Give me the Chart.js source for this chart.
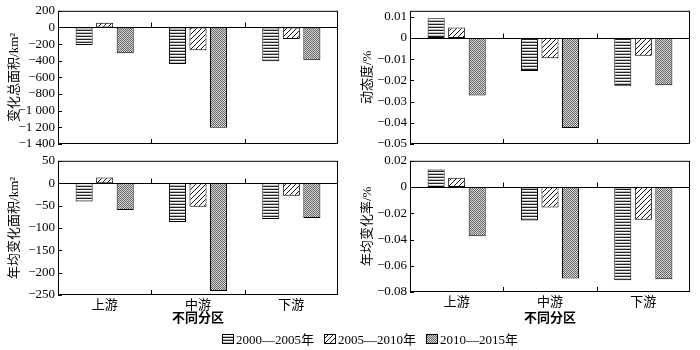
<!DOCTYPE html>
<html>
<head>
<meta charset="utf-8">
<script src="https://cdn.jsdelivr.net/npm/chart.js@4.4.1/dist/chart.umd.min.js"></script>
<style>
    body { margin: 0; background: #fff; width: 700px; height: 350px; position: relative; overflow: hidden; font-family: 'Liberation Serif', 'Noto Sans CJK SC', serif; }
    .panel { position: absolute; }
    #legend { position: absolute; left: 222px; top: 331px; height: 15px; display: flex; align-items: center; font-size: 13px; color: #000; white-space: nowrap; }
    #legend .item { display: flex; align-items: center; margin-right: 10px; }
    #legend canvas { display: block; width: 12px; height: 10px; margin-right: 2px; }
</style>
</head>
<body>
<div class="panel" style="left:0;top:0;width:350px;height:156px"><canvas id="c1"></canvas></div>
<div class="panel" style="left:350px;top:0;width:350px;height:156px"><canvas id="c2"></canvas></div>
<div class="panel" style="left:0;top:150px;width:350px;height:180px"><canvas id="c3"></canvas></div>
<div class="panel" style="left:350px;top:150px;width:350px;height:180px"><canvas id="c4"></canvas></div>
<div id="legend"></div>
<script>
// 分区 与 时段
const regions = ["上游", "中游", "下游"];
const periods = ["2000—2005年", "2005—2010年", "2010—2015年"];

// 变化总面积/km2 (每个时段一组, 顺序: 上游 中游 下游)
const totalArea0005 = [-212, -440, -405];
const totalArea0510 = [57, -275, -138];
const totalArea1015 = [-310, -1205, -393];

// 动态度/%
const dynamic0005 = [0.0093, -0.0156, -0.0228];
const dynamic0510 = [0.0049, -0.0096, -0.0084];
const dynamic1015 = [-0.0271, -0.0425, -0.0223];

// 年均变化面积/km2
const annualArea0005 = [-41, -87, -80];
const annualArea0510 = [12.5, -52.5, -28];
const annualArea1015 = [-60, -241, -78];

// 年均变化率/%
const annualRate0005 = [0.0133, -0.0255, -0.071];
const annualRate0510 = [0.007, -0.0155, -0.025];
const annualRate1015 = [-0.0375, -0.0697, -0.0702];

const FONT = "'Liberation Serif', 'Noto Sans CJK SC', serif";

function makePattern(kind) {
    const c = document.createElement("canvas");
    const g = c.getContext("2d");
    if (kind === 0) {
        c.width = 4; c.height = 3;
        g.fillStyle = "#fff"; g.fillRect(0, 0, 4, 3);
        g.fillStyle = "#222"; g.fillRect(0, 0, 4, 1);
        g.fillStyle = "#bbb"; g.fillRect(0, 2, 4, 1);
    } else if (kind === 1) {
        c.width = 5; c.height = 5;
        g.fillStyle = "#fff"; g.fillRect(0, 0, 5, 5);
        g.fillStyle = "#111";
        for (let i = 0; i < 5; i++) g.fillRect(i, 4 - i, 1, 1);
    } else {
        c.width = 2; c.height = 2;
        g.fillStyle = "#d6d6d6"; g.fillRect(0, 0, 2, 2);
        g.fillStyle = "#666"; g.fillRect(0, 0, 1, 1); g.fillRect(1, 1, 1, 1);
    }
    return c;
}
const patternCanvases = [makePattern(0), makePattern(1), makePattern(2)];

function fmtInt(v) {
    if (v === 0) return "0";
    const s = Math.abs(v).toString().replace(/\B(?=(\d{3})+(?!\d))/g, " ");
    return (v < 0 ? "−" : "") + s;
}
function fmtDec(v) {
    if (Math.abs(v) < 1e-9) return "0";
    return (v < 0 ? "−" : "") + Math.abs(v).toFixed(2);
}

// 边框、零线、内向刻度
const framePlugin = {
    id: "frame",
    afterDatasetsDraw(chart) {
        const ctx = chart.ctx, a = chart.chartArea, x = chart.scales.x, y = chart.scales.y;
        ctx.save();
        ctx.strokeStyle = "#000"; ctx.lineWidth = 1;
        ctx.strokeRect(a.left + 0.5, a.top + 0.5, a.right - a.left - 1, a.bottom - a.top - 1);
        ctx.beginPath();
        const y0 = Math.round(y.getPixelForValue(0)) + 0.5;
        ctx.moveTo(a.left, y0); ctx.lineTo(a.right, y0);
        for (let i = 0; i < regions.length - 1; i++) {
            const px = Math.round(x.getPixelForValue(i + 0.5)) + 0.5;
            ctx.moveTo(px, a.bottom); ctx.lineTo(px, a.bottom - 5);
            ctx.moveTo(px, y0); ctx.lineTo(px, y0 - 5);
        }
        y.ticks.forEach(function(t) {
            const py = Math.round(y.getPixelForValue(t.value)) + 0.5;
            ctx.moveTo(a.left, py); ctx.lineTo(a.left + 4, py);
        });
        ctx.stroke();
        ctx.restore();
    }
};

function makeChart(id, series, yTitle, min, max, step, fmt, opt) {
    const ctx = document.getElementById(id).getContext("2d");
    const pats = patternCanvases.map(function(c) { return ctx.createPattern(c, "repeat"); });
    return new Chart(ctx, {
        type: "bar",
        data: {
            labels: regions,
            datasets: series.map(function(d, i) {
                return { label: periods[i], data: d, backgroundColor: pats[i], borderColor: "#000", borderWidth: 1, borderSkipped: false,
                         categoryPercentage: 0.66, barPercentage: 0.83 };
            })
        },
        options: {
            animation: false, responsive: true, maintainAspectRatio: false,
            layout: { padding: { top: opt.top, right: opt.right, bottom: opt.bottom, left: 0 } },
            plugins: { legend: { display: false }, tooltip: { enabled: false } },
            scales: {
                x: {
                    display: opt.showX, offset: true,
                    grid: { display: false, drawTicks: false }, border: { display: false },
                    ticks: { color: "#000", font: { family: FONT, size: 13 }, padding: 3, maxRotation: 0 },
                    title: { display: opt.showX, text: "不同分区", color: "#000", font: { family: FONT, size: 13, weight: "bold" }, padding: { top: 0, bottom: 4 } },
                    afterFit: function(s) { s.height = opt.showX ? opt.xh : 0; }
                },
                y: {
                    min: min, max: max,
                    grid: { display: false, drawTicks: false }, border: { display: false },
                    ticks: { stepSize: step, autoSkip: false, includeBounds: false, color: "#000", font: { family: FONT, size: 13 }, padding: 3, callback: fmt },
                    afterBuildTicks: function(s) {
                        s.ticks = s.ticks.filter(function(t) { return Math.abs(t.value / step - Math.round(t.value / step)) < 1e-6; });
                    },
                    title: { display: true, text: yTitle, color: "#000", font: { family: FONT, size: 13 }, padding: { top: opt.tp, bottom: 0 } },
                    afterFit: function(s) { s.width = opt.yw; }
                }
            }
        },
        plugins: [framePlugin]
    });
}

makeChart("c1", [totalArea0005, totalArea0510, totalArea1015], "变化总面积/km²", -1400, 200, 200, fmtInt,
    { top: 8, right: 12, bottom: 12, showX: false, xh: 0, yw: 58, tp: 7 });
makeChart("c2", [dynamic0005, dynamic0510, dynamic1015], "动态度/%", -0.05, 0.0128, 0.01, fmtDec,
    { top: 8, right: 10, bottom: 12, showX: false, xh: 0, yw: 60, tp: 10 });
makeChart("c3", [annualArea0005, annualArea0510, annualArea1015], "年均变化面积/km²", -250, 50, 50, fmtInt,
    { top: 10, right: 12, bottom: 0, showX: true, xh: 35, yw: 58, tp: 7 });
makeChart("c4", [annualRate0005, annualRate0510, annualRate1015], "年均变化率/%", -0.08, 0.02, 0.02, fmtDec,
    { top: 10, right: 10, bottom: 0, showX: true, xh: 38, yw: 60, tp: 10 });

// 图例
const legend = document.getElementById("legend");
periods.forEach(function(p, i) {
    const item = document.createElement("div"); item.className = "item";
    const sw = document.createElement("canvas"); sw.width = 12; sw.height = 10;
    const g = sw.getContext("2d");
    g.fillStyle = g.createPattern(patternCanvases[i], "repeat"); g.fillRect(0, 0, 12, 10);
    g.strokeStyle = "#000"; g.strokeRect(0.5, 0.5, 11, 9);
    const t = document.createElement("span"); t.textContent = p;
    item.appendChild(sw); item.appendChild(t); legend.appendChild(item);
});
</script>
</body>
</html>
